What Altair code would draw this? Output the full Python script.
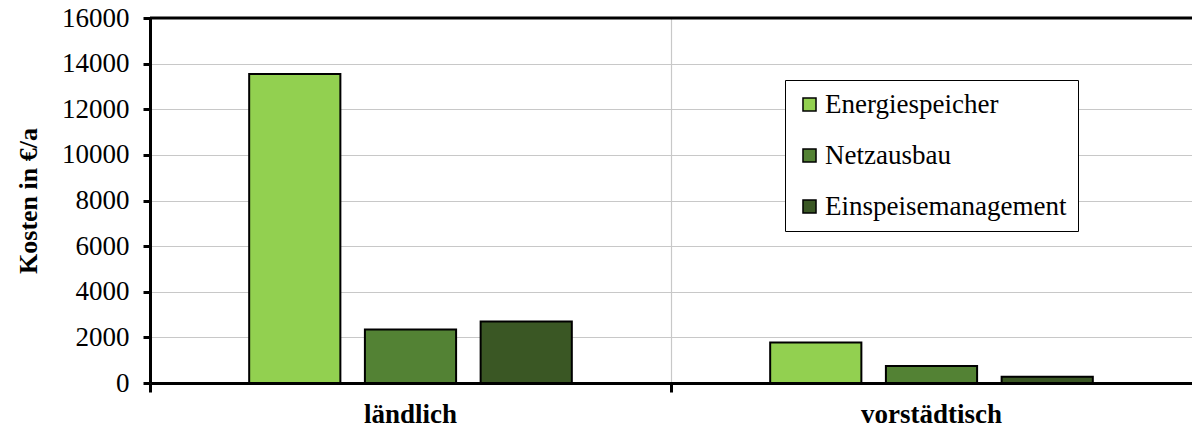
import altair as alt
import pandas as pd

# Kosten je Szenario (€/a)
kategorien = ["ländlich", "vorstädtisch"]
serien = ["Energiespeicher", "Netzausbau", "Einspeisemanagement"]
energiespeicher = [13550, 1780]
netzausbau = [2350, 740]
einspeisemanagement = [2700, 270]
farben = ["#92D050", "#538234", "#3A5724"]
y_ticks = [0, 2000, 4000, 6000, 8000, 10000, 12000, 14000, 16000]

rows = []
for serie, werte in zip(serien, [energiespeicher, netzausbau, einspeisemanagement]):
    for kat, wert in zip(kategorien, werte):
        rows.append({"Kategorie": kat, "Serie": serie, "Kosten": wert})
df = pd.DataFrame(rows)

FONT = "Liberation Serif, Times New Roman, serif"
PLOT_W = 1042

bars = alt.Chart(df).mark_bar(stroke="black", strokeWidth=2).encode(
    x=alt.X(
        "Kategorie:N",
        sort=kategorien,
        scale=alt.Scale(paddingInner=0, paddingOuter=0),
        axis=alt.Axis(
            title=None,
            # ticks and grid at the start of each band, labels stay centred
            bandPosition=0,
            grid=True,
            gridColor="#c8c8c8",
            gridWidth=1.2,
            domainColor="black",
            domainWidth=3,
            tickColor="black",
            tickWidth=3,
            tickSize=9,
            labelFont=FONT,
            labelFontWeight="bold",
            labelFontSize=27,
            labelColor="black",
            labelPadding=9,
            labelAngle=0,
        ),
    ),
    xOffset=alt.XOffset(
        "Serie:N",
        sort=serien,
        scale=alt.Scale(paddingInner=0.212, paddingOuter=0.857),
    ),
    y=alt.Y(
        "Kosten:Q",
        scale=alt.Scale(domain=[0, 16000], nice=False),
        axis=alt.Axis(
            title="Kosten in €/a",
            values=y_ticks,
            format="d",
            grid=True,
            gridColor="#c8c8c8",
            gridWidth=1.2,
            domainColor="black",
            domainWidth=3,
            tickColor="black",
            tickWidth=3,
            tickSize=7,
            labelFont=FONT,
            labelFontSize=27,
            labelColor="black",
            labelPadding=14,
            titleFont=FONT,
            titleFontSize=26,
            titleFontWeight="bold",
            titleColor="black",
            titlePadding=20,
        ),
    ),
    color=alt.Color(
        "Serie:N",
        sort=serien,
        scale=alt.Scale(domain=serien, range=farben),
        legend=alt.Legend(
            title=None,
            orient="none",
            legendX=635,
            legendY=62,
            strokeColor="black",
            fillColor="white",
            padding=11,
            symbolType="square",
            symbolSize=170,
            symbolStrokeColor="black",
            symbolStrokeWidth=1.5,
            symbolOpacity=1,
            labelFont=FONT,
            labelFontSize=27,
            labelColor="black",
            labelOffset=2,
            rowPadding=23,
            labelLimit=400,
        ),
    ),
)

# Oberer Rahmen bei 16000
top_rule = alt.Chart(pd.DataFrame({"y": [16000]})).mark_rule(
    color="black", strokeWidth=3
).encode(y="y:Q")

chart = (
    alt.layer(bars, top_rule)
    .properties(
        width=PLOT_W,
        height=365,
        autosize=alt.AutoSizeParams(type="none"),
        padding={"left": 150, "top": 18, "right": 0, "bottom": 45},
    )
    .configure_view(stroke=None)
    .configure_legend(strokeWidth=1.5)
    .configure(background="white")
)

chart.save("out.html", embed_options={"renderer": "svg", "actions": False})
